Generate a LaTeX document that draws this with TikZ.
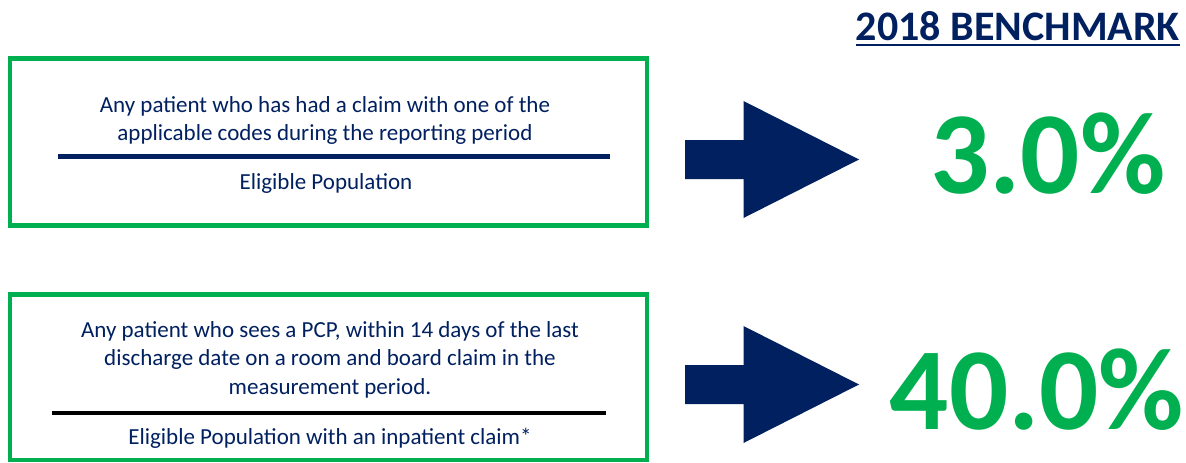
\documentclass[tikz,border=0pt]{standalone}
\usepackage{fontspec}
\setmainfont{Carlito}
\definecolor{navy}{RGB}{0,32,96}
\definecolor{grn}{RGB}{0,176,80}
\begin{document}
\begin{tikzpicture}[x=1pt,y=-1pt,
  box/.style={draw=grn,line width=4.5pt},
  body/.style={text=navy,font=\fontsize{23}{28.3}\selectfont,align=center,inner sep=0pt,anchor=base},
  pct/.style={text=grn,font=\bfseries\fontsize{117}{117}\selectfont,inner sep=0pt,anchor=base},
  head/.style={text=navy,font=\bfseries\fontsize{42}{42}\selectfont,inner sep=0pt,anchor=base east},
  rulebar/.style={line width=4.5pt},
  blockarrow/.style={fill=navy}]
\useasboundingbox (0,0) rectangle (1186,463);
\fill[white] (0,0) rectangle (1186,463);
% heading
\node[head] (bm) at (1180,40) {2018 BENCHMARK};
\draw[navy,line width=2pt] ([yshift=-5pt]bm.base west) -- ([yshift=-5pt]bm.base east);
% box 1
\draw[box] (10,58.5) rectangle (647,225.5);
\node[body] (n1) at (325,140.5) {Any patient who has had a claim with one of the\\applicable codes during the reporting period};
\coordinate (r1a) at (58,156.5);
\coordinate (r1b) at (610,156.5);
\draw[rulebar,navy] (r1a) -- (r1b);
\node[body] (d1) at (326,189) {Eligible Population};
% box 2
\draw[box] (10,294.5) rectangle (647,460);
\node[body] (n2) at (330,394) {Any patient who sees a PCP, within 14 days of the last\\discharge date on a room and board claim in the\\measurement period.};
\coordinate (r2a) at (51.5,413);
\coordinate (r2b) at (605.5,413);
\draw[rulebar,black] (r2a) -- (r2b);
\node[body] (d2) at (330,444) {Eligible Population with an inpatient claim*};
% arrows
\fill[blockarrow] (685,140) -- (743.5,140) -- (743.5,101) -- (859,159.5) -- (743.5,218) -- (743.5,179) -- (685,179) -- cycle;
\fill[blockarrow] (685,365) -- (743.5,365) -- (743.5,326) -- (859,384.5) -- (743.5,443) -- (743.5,404) -- (685,404) -- cycle;
% percentages
\node[pct] (p1) at (1048,193) {3.0\%};
\node[pct] (p2) at (1037,429) {40.0\%};
\end{tikzpicture}
\end{document}
